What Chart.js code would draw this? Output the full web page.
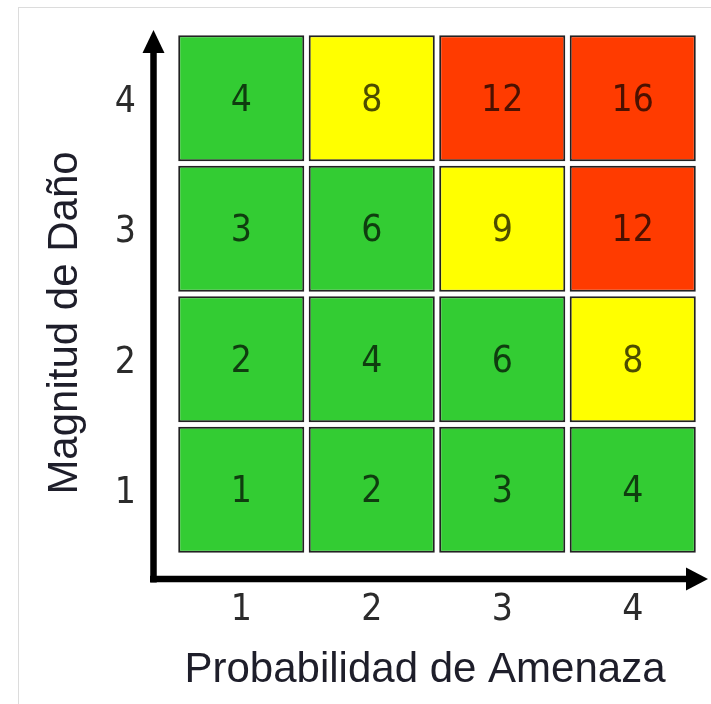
<!DOCTYPE html>
<html>
<head>
<meta charset="utf-8">
<script src="https://cdn.jsdelivr.net/npm/chart.js@4.4.1/dist/chart.umd.min.js"></script>
<style>
  html, body { margin: 0; padding: 0; background: #ffffff; }
  #wrap { position: relative; width: 711px; height: 704px; }
  #frame { position: absolute; left: 18px; top: 7px; right: 0; bottom: 0;
           border-left: 1px solid #dcdcdc; border-top: 1px solid #dcdcdc; pointer-events: none; }
  canvas { position: absolute; left: 0; top: 0; }
</style>
</head>
<body>
<div id="wrap">
  <canvas id="c" width="711" height="704"></canvas>
  <div id="frame"></div>
</div>
<script>
// ---- data ----
const probabilidad = ['1', '2', '3', '4'];          // x categories
const magnitud = [1, 2, 3, 4];                       // y tick labels (rows)
const riesgoFila1 = [1, 2, 3, 4];
const riesgoFila2 = [2, 4, 6, 8];
const riesgoFila3 = [3, 6, 9, 12];
const riesgoFila4 = [4, 8, 12, 16];
const nivelFila1 = ['bajo', 'bajo', 'bajo', 'bajo'];
const nivelFila2 = ['bajo', 'bajo', 'bajo', 'medio'];
const nivelFila3 = ['bajo', 'bajo', 'medio', 'alto'];
const nivelFila4 = ['bajo', 'medio', 'alto', 'alto'];
const tituloX = 'Probabilidad de Amenaza';
const tituloY = 'Magnitud de Daño';

const colores = { bajo: '#33cc33', medio: '#ffff00', alto: '#ff3b00' };
const filas = [
  { mag: magnitud[0], valores: riesgoFila1, niveles: nivelFila1 },
  { mag: magnitud[1], valores: riesgoFila2, niveles: nivelFila2 },
  { mag: magnitud[2], valores: riesgoFila3, niveles: nivelFila3 },
  { mag: magnitud[3], valores: riesgoFila4, niveles: nivelFila4 }
];
const gap = 0.018;

const datasets = filas.map(f => ({
  label: 'Magnitud ' + f.mag,
  data: f.valores.map(() => [f.mag - 0.5 + gap, f.mag + 0.5 - gap]),
  valores: f.valores,
  backgroundColor: f.niveles.map(n => colores[n]),
  borderColor: '#222222',
  borderWidth: 2,
  borderSkipped: false,
  grouped: false,
  categoryPercentage: 1.0,
  barPercentage: 0.966
}));

const cellLabels = {
  id: 'cellLabels',
  afterDatasetsDraw(chart) {
    const ctx = chart.ctx;
    ctx.save();
    ctx.font = '37px "DejaVu Sans Condensed", "DejaVu Sans", sans-serif';
    ctx.fillStyle = 'rgba(0,0,0,0.7)';
    ctx.textAlign = 'center';
    ctx.textBaseline = 'middle';
    chart.data.datasets.forEach((ds, i) => {
      chart.getDatasetMeta(i).data.forEach((el, j) => {
        const cy = (el.y + el.base) / 2 + 3;
        ctx.fillText(String(ds.valores[j]), el.x, cy);
      });
    });
    ctx.restore();
  }
};

const axesArrows = {
  id: 'axesArrows',
  afterDraw(chart) {
    const ctx = chart.ctx;
    const a = chart.chartArea;
    const ax = a.left - 22.5;     // vertical axis line
    const ay = a.bottom + 24;     // horizontal axis line
    ctx.save();
    ctx.strokeStyle = '#000';
    ctx.fillStyle = '#000';
    ctx.lineWidth = 6.5;
    ctx.lineCap = 'butt';
    ctx.beginPath();
    ctx.moveTo(ax, ay + 3.5);
    ctx.lineTo(ax, a.top + 12);
    ctx.stroke();
    ctx.beginPath();
    ctx.moveTo(ax, a.top - 3);
    ctx.lineTo(ax - 11, a.top + 20);
    ctx.lineTo(ax + 11, a.top + 20);
    ctx.closePath();
    ctx.fill();
    ctx.beginPath();
    ctx.moveTo(ax - 3.5, ay);
    ctx.lineTo(a.right - 4, ay);
    ctx.stroke();
    ctx.beginPath();
    ctx.moveTo(a.right + 10, ay);
    ctx.lineTo(a.right - 12, ay - 11.5);
    ctx.lineTo(a.right - 12, ay + 11.5);
    ctx.closePath();
    ctx.fill();
    ctx.restore();
  }
};

const axisTitles = {
  id: 'axisTitles',
  afterDraw(chart) {
    const ctx = chart.ctx;
    const a = chart.chartArea;
    ctx.save();
    ctx.fillStyle = '#1e1e2a';
    ctx.font = '42px "Liberation Sans", Arial, sans-serif';
    ctx.textAlign = 'center';
    ctx.textBaseline = 'alphabetic';
    ctx.fillText(tituloX, (a.left + a.right) / 2 - 12, a.bottom + 127);
    ctx.translate(a.left - 99, (a.top + a.bottom) / 2 + 29);
    ctx.rotate(-Math.PI / 2);
    ctx.fillText(tituloY, 0, 0);
    ctx.restore();
  }
};

new Chart(document.getElementById('c'), {
  type: 'bar',
  data: { labels: probabilidad, datasets },
  options: {
    responsive: false,
    animation: false,
    layout: { padding: { top: 33, right: 13, left: 0, bottom: 0 } },
    plugins: { legend: { display: false }, tooltip: { enabled: false } },
    scales: {
      x: {
        type: 'category',
        grid: { display: false, drawTicks: false },
        border: { display: false },
        ticks: { color: '#2b2b2b', padding: 33,
                 font: { family: '"DejaVu Sans Condensed", "DejaVu Sans", sans-serif', size: 37 } },
        afterFit(s) { s.height = 149; s.paddingLeft = 0; s.paddingRight = 0; }
      },
      y: {
        type: 'linear',
        min: 0.5, max: 4.5,
        grid: { display: false, drawTicks: false },
        border: { display: false },
        afterBuildTicks(s) { s.ticks = magnitud.map(v => ({ value: v })); },
        ticks: { color: '#2b2b2b', padding: 40, labelOffset: 4,
                 font: { family: '"DejaVu Sans Condensed", "DejaVu Sans", sans-serif', size: 37 },
                 callback: v => String(v) },
        afterFit(s) { s.width = 176; s.paddingTop = 0; s.paddingBottom = 0; }
      }
    }
  },
  plugins: [cellLabels, axesArrows, axisTitles]
});
</script>
</body>
</html>
